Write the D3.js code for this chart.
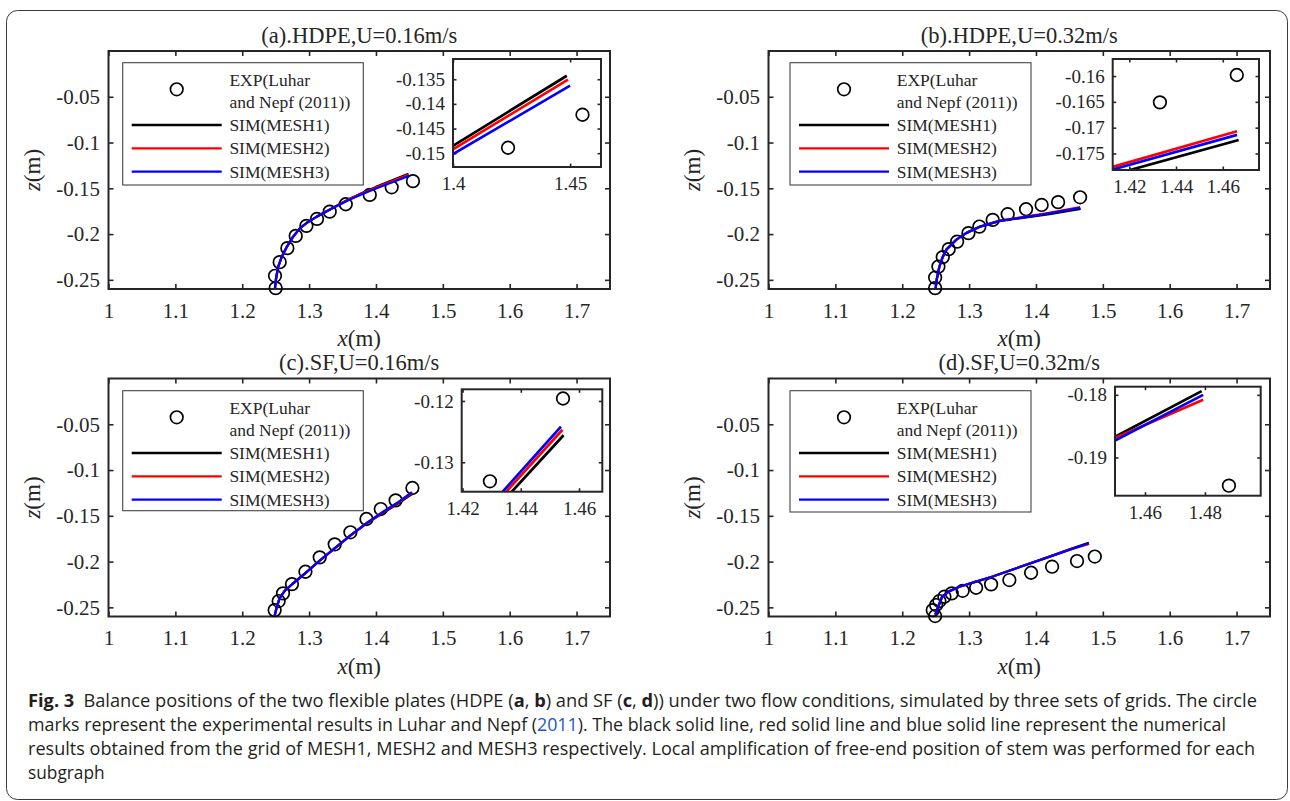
<!DOCTYPE html>
<html>
<head>
<meta charset="utf-8">
<script src="https://cdn.jsdelivr.net/npm/d3@7/dist/d3.min.js"></script>
<style>
body{margin:0;background:#fff;}
svg text{font-family:"Liberation Serif","Times New Roman",serif;fill:#262626;}
</style>
</head>
<body>
<div id="chart"></div>
<script>
// axis settings
const xTicksMain = [1, 1.1, 1.2, 1.3, 1.4, 1.5, 1.6, 1.7];
const zTicksMain = [-0.25, -0.2, -0.15, -0.1, -0.05];
const titles = ['(a).HDPE,U=0.16m/s', '(b).HDPE,U=0.32m/s', '(c).SF,U=0.16m/s', '(d).SF,U=0.32m/s'];
const legendLabels = ['EXP(Luhar', 'and Nepf (2011))', 'SIM(MESH1)', 'SIM(MESH2)', 'SIM(MESH3)'];
const meshColors = ['#000000', '#ff0000', '#0000ff'];

const insetXDomains = [[1.4, 1.4632], [1.4129, 1.4755], [1.4197, 1.468], [1.45, 1.4986]];
const insetZDomains = [[-0.1528, -0.1309], [-0.1782, -0.1567], [-0.1348, -0.1181], [-0.1961, -0.1787]];
const insetXTicks = [[1.4, 1.45], [1.42, 1.44, 1.46], [1.42, 1.44, 1.46], [1.46, 1.48]];
const insetZTicks = [[-0.15, -0.145, -0.14, -0.135], [-0.175, -0.17, -0.165, -0.16], [-0.13, -0.12], [-0.19, -0.18]];

// (a) HDPE, U=0.16
const aExpX = [1.25, 1.249, 1.256, 1.2675, 1.28, 1.296, 1.3118, 1.3308, 1.3548, 1.3907, 1.4235, 1.4553];
const aExpZ = [-0.259, -0.2456, -0.2307, -0.2154, -0.202, -0.191, -0.1834, -0.1755, -0.1674, -0.1572, -0.1489, -0.1422];
const aMesh1X = [1.249, 1.2505, 1.2535, 1.259, 1.266, 1.275, 1.286, 1.298, 1.311, 1.325, 1.34, 1.36, 1.38, 1.40, 1.4486];
const aMesh1Z = [-0.259, -0.249, -0.2365, -0.225, -0.2149, -0.204, -0.1938, -0.187, -0.1812, -0.1755, -0.1695, -0.1618, -0.1548, -0.1485, -0.1343];
const aMesh2X = [1.249, 1.2505, 1.2535, 1.259, 1.266, 1.275, 1.286, 1.298, 1.311, 1.325, 1.34, 1.36, 1.38, 1.40, 1.4491];
const aMesh2Z = [-0.259, -0.249, -0.2365, -0.225, -0.2149, -0.204, -0.1938, -0.187, -0.1812, -0.1755, -0.1695, -0.1620, -0.1553, -0.1492, -0.1351];
const aMesh3X = [1.249, 1.2505, 1.2535, 1.259, 1.266, 1.275, 1.286, 1.298, 1.311, 1.325, 1.34, 1.36, 1.38, 1.40, 1.45];
const aMesh3Z = [-0.259, -0.249, -0.2365, -0.225, -0.2149, -0.204, -0.1938, -0.187, -0.1812, -0.1757, -0.1698, -0.1625, -0.1561, -0.1502, -0.1363];

// (b) HDPE, U=0.32
const bExpX = [1.2492, 1.2492, 1.2541, 1.2606, 1.2695, 1.2821, 1.299, 1.3154, 1.3353, 1.3577, 1.3852, 1.4085, 1.4331, 1.466];
const bExpZ = [-0.259, -0.2475, -0.2355, -0.2252, -0.2165, -0.2082, -0.199, -0.1918, -0.1845, -0.1783, -0.1729, -0.1682, -0.1651, -0.1598];
const bMesh1X = [1.25, 1.2515, 1.2556, 1.2606, 1.2656, 1.2806, 1.2955, 1.3154, 1.3453, 1.38, 1.4203, 1.4668];
const bMesh1Z = [-0.259, -0.25, -0.2355, -0.225, -0.2173, -0.2063, -0.199, -0.1922, -0.1858, -0.1822, -0.1782, -0.1724];
const bMesh2X = [1.25, 1.2515, 1.2556, 1.2606, 1.2656, 1.2806, 1.2955, 1.3154, 1.3453, 1.38, 1.4129, 1.4661];
const bMesh2Z = [-0.259, -0.25, -0.2355, -0.225, -0.2173, -0.2063, -0.199, -0.1920, -0.1853, -0.1815, -0.1776, -0.1707];
const bMesh3X = [1.25, 1.2515, 1.2556, 1.2606, 1.2656, 1.2806, 1.2955, 1.3154, 1.3453, 1.38, 1.4129, 1.4661];
const bMesh3Z = [-0.259, -0.25, -0.2355, -0.225, -0.2173, -0.2063, -0.199, -0.1921, -0.1855, -0.1819, -0.1781, -0.1714];

// (c) SF, U=0.16
const cExpX = [1.2485, 1.2545, 1.261, 1.2744, 1.2945, 1.3159, 1.3383, 1.3618, 1.3858, 1.4072, 1.4294, 1.4545];
const cExpZ = [-0.253, -0.2431, -0.2347, -0.2246, -0.2111, -0.1954, -0.1812, -0.168, -0.1535, -0.1426, -0.1331, -0.1196];
const cMesh1X = [1.2485, 1.2515, 1.256, 1.2635, 1.275, 1.2945, 1.311, 1.3358, 1.3608, 1.3858, 1.4106, 1.4369, 1.4547];
const cMesh1Z = [-0.2592, -0.25, -0.24, -0.232, -0.2245, -0.2125, -0.202, -0.187, -0.1722, -0.1585, -0.147, -0.1348, -0.1256];
const cMesh2X = [1.2485, 1.2515, 1.256, 1.2635, 1.275, 1.2945, 1.311, 1.3358, 1.3608, 1.3858, 1.4106, 1.4350, 1.4543];
const cMesh2Z = [-0.2592, -0.25, -0.24, -0.232, -0.2245, -0.2125, -0.202, -0.187, -0.1721, -0.1582, -0.1462, -0.1348, -0.1247];
const cMesh3X = [1.2485, 1.2515, 1.256, 1.2635, 1.275, 1.2945, 1.311, 1.3358, 1.3608, 1.3858, 1.4106, 1.4338, 1.4538];
const cMesh3Z = [-0.2592, -0.25, -0.24, -0.232, -0.2245, -0.2125, -0.202, -0.187, -0.172, -0.158, -0.1455, -0.1348, -0.1242];

// (d) SF, U=0.32
const dExpX = [1.2492, 1.2456, 1.2507, 1.2556, 1.2631, 1.274, 1.2904, 1.3105, 1.3329, 1.3602, 1.3927, 1.4241, 1.4614, 1.488];
const dExpZ = [-0.2595, -0.253, -0.2475, -0.2431, -0.2384, -0.2347, -0.2319, -0.2286, -0.2249, -0.2202, -0.2122, -0.2056, -0.1994, -0.1945];
const dMesh1X = [1.2495, 1.2545, 1.2596, 1.27, 1.2855, 1.3105, 1.3353, 1.3852, 1.42, 1.45, 1.4789];
const dMesh1Z = [-0.258, -0.248, -0.2384, -0.2325, -0.2275, -0.222, -0.2163, -0.2035, -0.1945, -0.1867, -0.1794];
const dMesh2X = [1.2495, 1.2545, 1.2596, 1.27, 1.2855, 1.3105, 1.3353, 1.3852, 1.42, 1.45, 1.4794];
const dMesh2Z = [-0.258, -0.248, -0.2384, -0.2325, -0.2275, -0.222, -0.2163, -0.2035, -0.1946, -0.1869, -0.1808];
const dMesh3X = [1.2495, 1.2545, 1.2596, 1.27, 1.2855, 1.3105, 1.3353, 1.3852, 1.42, 1.45, 1.4794];
const dMesh3Z = [-0.258, -0.248, -0.2384, -0.2325, -0.2275, -0.222, -0.2163, -0.2036, -0.1948, -0.1873, -0.18];

const zip = (xs, zs) => xs.map((x, i) => ({x: x, z: zs[i]}));

const panels = [
	{exp: zip(aExpX, aExpZ), mesh: [zip(aMesh1X, aMesh1Z), zip(aMesh2X, aMesh2Z), zip(aMesh3X, aMesh3Z)]},
	{exp: zip(bExpX, bExpZ), mesh: [zip(bMesh1X, bMesh1Z), zip(bMesh2X, bMesh2Z), zip(bMesh3X, bMesh3Z)]},
	{exp: zip(cExpX, cExpZ), mesh: [zip(cMesh1X, cMesh1Z), zip(cMesh2X, cMesh2Z), zip(cMesh3X, cMesh3Z)]},
	{exp: zip(dExpX, dExpZ), mesh: [zip(dMesh1X, dMesh1Z), zip(dMesh2X, dMesh2Z), zip(dMesh3X, dMesh3Z)]}
];

// layout (pixels)
const width = 1290, height = 801;
const plotW = 501.5, plotH = 238;
const origins = [{l: 108.5, t: 51}, {l: 768.5, t: 51}, {l: 108.5, t: 378.5}, {l: 768.5, t: 378.5}];
const insetBoxes = [
	{l: 344.5, t: 8, w: 148, h: 108},
	{l: 344.2, t: 8, w: 146.3, h: 111},
	{l: 353.2, t: 10.8, w: 140.6, h: 102.4},
	{l: 346.5, t: 8.2, w: 145.7, h: 109}
];
const legendBoxes = [
	{l: 14.2, t: 11.7, w: 240.6, h: 122.3},
	{l: 21.5, t: 11.7, w: 241, h: 122.3},
	{l: 14.2, t: 12.2, w: 240.6, h: 120},
	{l: 21.5, t: 12.2, w: 241, h: 121.3}
];

const fmt = d => String(+d.toFixed(4));

const svg = d3.select('#chart').append('svg')
	.attr('width', width)
	.attr('height', height);

// figure frame
svg.append('rect')
	.attr('x', 6.5).attr('y', 10.5)
	.attr('width', 1281).attr('height', 789)
	.attr('rx', 11)
	.attr('fill', 'none')
	.attr('stroke', '#3a3a3a')
	.attr('stroke-width', 1);

const defs = svg.append('defs');

function boxAxes(g, sx, sy, xt, zt, tick, fontSize, padX, padY){
	// bottom axis carries labels, the other three sides only ticks
	g.append('g')
		.attr('transform', `translate(0,${sy.range()[0]})`)
		.call(d3.axisBottom(sx).tickValues(xt).tickSizeInner(-tick).tickSizeOuter(0).tickPadding(padX).tickFormat(fmt))
		.call(a => a.select('.domain').remove());
	g.append('g')
		.attr('transform', `translate(0,${sy.range()[1]})`)
		.call(d3.axisTop(sx).tickValues(xt).tickSizeInner(-tick).tickSizeOuter(0).tickFormat(''))
		.call(a => a.select('.domain').remove());
	g.append('g')
		.attr('transform', `translate(${sx.range()[0]},0)`)
		.call(d3.axisLeft(sy).tickValues(zt).tickSizeInner(-tick).tickSizeOuter(0).tickPadding(padY).tickFormat(fmt))
		.call(a => a.select('.domain').remove());
	g.append('g')
		.attr('transform', `translate(${sx.range()[1]},0)`)
		.call(d3.axisRight(sy).tickValues(zt).tickSizeInner(-tick).tickSizeOuter(0).tickFormat(''))
		.call(a => a.select('.domain').remove());

	g.selectAll('.tick line').attr('stroke', '#262626').attr('stroke-width', 1.6);
	g.selectAll('.tick text')
		.attr('fill', '#262626')
		.style('font-size', fontSize + 'px')
		.style('font-family', '"Liberation Serif","Times New Roman",serif');
}

function drawData(g, p, sx, sy, lw, clipId){
	const line = d3.line().x(d => sx(d.x)).y(d => sy(d.z));
	const inner = g.append('g');
	if (clipId) inner.attr('clip-path', `url(#${clipId})`);
	inner.selectAll('circle.exp')
		.data(p.exp)
		.join('circle')
		.attr('class', 'exp')
		.attr('cx', d => sx(d.x))
		.attr('cy', d => sy(d.z))
		.attr('r', 6.3)
		.attr('fill', 'none')
		.attr('stroke', '#000')
		.attr('stroke-width', 1.7);
	inner.selectAll('path.sim')
		.data(p.mesh)
		.join('path')
		.attr('class', 'sim')
		.attr('d', line)
		.attr('fill', 'none')
		.attr('stroke', (d, i) => meshColors[i])
		.attr('stroke-width', lw)
		.attr('stroke-linejoin', 'round');
}

panels.forEach((p, i) => {
	const o = origins[i];
	const g = svg.append('g');

	const sx = d3.scaleLinear().domain([1, 1.75]).range([o.l, o.l + plotW]);
	const sy = d3.scaleLinear().domain([-0.26, 0]).range([o.t + plotH, o.t]);

	// title
	g.append('text')
		.attr('x', o.l + plotW / 2)
		.attr('y', o.t - 8.5)
		.attr('text-anchor', 'middle')
		.style('font-size', '22.5px')
		.text(titles[i]);

	boxAxes(g, sx, sy, xTicksMain, zTicksMain, 5, 21, 14, 8.5);

	// x label
	const xl = g.append('text')
		.attr('x', o.l + plotW / 2)
		.attr('y', o.t + plotH + 57)
		.attr('text-anchor', 'middle')
		.style('font-size', '23px');
	xl.append('tspan').style('font-style', 'italic').text('x');
	xl.append('tspan').text('(m)');

	// z label
	const zl = g.append('text')
		.attr('transform', `translate(${o.l - 68.5},${o.t + plotH / 2}) rotate(-90)`)
		.attr('text-anchor', 'middle')
		.style('font-size', '23px');
	zl.append('tspan').style('font-style', 'italic').text('z');
	zl.append('tspan').text('(m)');

	g.append('rect')
		.attr('x', o.l).attr('y', o.t)
		.attr('width', plotW).attr('height', plotH)
		.attr('fill', 'none')
		.attr('stroke', '#262626')
		.attr('stroke-width', 2);

	drawData(g, p, sx, sy, 2.3, null);

	// legend
	const lb = legendBoxes[i];
	const lg = g.append('g').attr('transform', `translate(${o.l + lb.l},${o.t + lb.t})`);
	lg.append('rect')
		.attr('width', lb.w).attr('height', lb.h)
		.attr('fill', '#fff')
		.attr('stroke', '#444')
		.attr('stroke-width', 1.1);
	lg.append('circle')
		.attr('cx', 54).attr('cy', 26.6).attr('r', 6.3)
		.attr('fill', 'none').attr('stroke', '#000').attr('stroke-width', 1.7);
	const rowY = [17.3, 39, 62.3, 85.6, 109];
	lg.selectAll('text')
		.data(legendLabels)
		.join('text')
		.attr('x', 106.7)
		.attr('y', (d, k) => rowY[k])
		.attr('dy', '0.35em')
		.style('font-size', '17.5px')
		.text(d => d);
	lg.selectAll('line')
		.data(meshColors)
		.join('line')
		.attr('x1', 9).attr('x2', 99)
		.attr('y1', (d, k) => rowY[k + 2])
		.attr('y2', (d, k) => rowY[k + 2])
		.attr('stroke', d => d)
		.attr('stroke-width', 2.3);

	// inset (local amplification of the free end)
	const ib = insetBoxes[i];
	const il = o.l + ib.l, it = o.t + ib.t;
	const ix = d3.scaleLinear().domain(insetXDomains[i]).range([il, il + ib.w]);
	const iy = d3.scaleLinear().domain(insetZDomains[i]).range([it + ib.h, it]);
	const ig = g.append('g');
	ig.append('rect')
		.attr('x', il).attr('y', it).attr('width', ib.w).attr('height', ib.h)
		.attr('fill', '#fff');
	defs.append('clipPath').attr('id', 'clip-inset-' + i)
		.append('rect')
		.attr('x', il).attr('y', it).attr('width', ib.w).attr('height', ib.h);
	boxAxes(ig, ix, iy, insetXTicks[i], insetZTicks[i], 3.5, 19, 10, 8);
	drawData(ig, p, ix, iy, 2.7, 'clip-inset-' + i);
	ig.append('rect')
		.attr('x', il).attr('y', it).attr('width', ib.w).attr('height', ib.h)
		.attr('fill', 'none')
		.attr('stroke', '#262626')
		.attr('stroke-width', 2);
});

// caption
const captionLines = [
	[['Fig. 3', 'b'], ['\u2002Balance positions of the two flexible plates (HDPE (', ''], ['a', 'b'], [', ', ''], ['b', 'b'], [') and SF (', ''], ['c', 'b'], [', ', ''], ['d', 'b'], [')) under two flow conditions, simulated by three sets of grids. The circle', '']],
	[['marks represent the experimental results in Luhar and Nepf (', ''], ['2011', 'link'], ['). The black solid line, red solid line and blue solid line represent the numerical', '']],
	[['results obtained from the grid of MESH1, MESH2 and MESH3 respectively. Local amplification of free-end position of stem was performed for each', '']],
	[['subgraph', '']]
];
const captionWidths = [1229, 1198, 1227, null];
const captionY = [707, 731, 755, 779];

const cap = svg.append('g');
captionLines.forEach((parts, k) => {
	const t = cap.append('text')
		.attr('x', 28)
		.attr('y', captionY[k])
		.style('font-family', '"Open Sans","Noto Sans",sans-serif')
		.style('font-size', '17.3px')
		.style('fill', '#231f20');
	if (captionWidths[k]) {
		t.attr('textLength', captionWidths[k]).attr('lengthAdjust', 'spacingAndGlyphs');
	}
	parts.forEach(pt => {
		const s = t.append('tspan').text(pt[0]);
		if (pt[1] === 'b') s.style('font-weight', 'bold');
		if (pt[1] === 'link') s.style('fill', '#1d57c8');
	});
});
</script>
</body>
</html>
